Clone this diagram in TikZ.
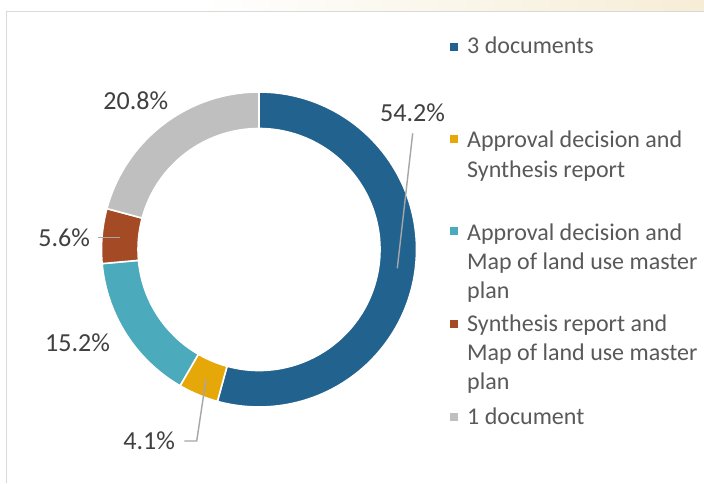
\documentclass[tikz,border=0pt]{standalone}
\usepackage{fontspec}
\setmainfont{Carlito}
\definecolor{cblue}{HTML}{22628F}
\definecolor{cyellow}{HTML}{E6A708}
\definecolor{cteal}{HTML}{4BAABB}
\definecolor{cbrown}{HTML}{A44A24}
\definecolor{cgray}{HTML}{BFBFBF}
\definecolor{labtxt}{HTML}{404040}
\definecolor{legtxt}{HTML}{595959}
\definecolor{leader}{HTML}{A6A6A6}
\definecolor{frame}{HTML}{D9D9D9}
\definecolor{cream}{HTML}{F6EDD6}
\newcommand{\ringslice}[3]{%
  \draw[white, line width=1.6pt, fill=#3]
    ([shift={(#1:157.5)}]ctr) arc[start angle=#1, end angle=#2, radius=157.5]
    -- ([shift={(#2:121)}]ctr) arc[start angle=#2, end angle=#1, radius=121] -- cycle;}
\begin{document}
\begin{tikzpicture}[x=1pt,y=1pt,
  lab/.style={font=\fontsize{26}{31}\selectfont, text=labtxt, inner sep=0pt, anchor=base},
  leg/.style={font=\fontsize{24}{29}\selectfont, text=legtxt, inner sep=0pt, anchor=base west, align=left},
  legsq/.style={minimum size=8pt, inner sep=0pt, draw=none},
  leaderline/.style={draw=leader, line width=1.4pt}]
\useasboundingbox (0,0) rectangle (704,483);
\fill[white] (0,0) rectangle (704,483);
\shade[left color=white, right color=cream] (200,471.5) rectangle (704,483);
\draw[frame, line width=1.2pt] (6.5,0) -- (6.5,471.5) -- (704,471.5);
\coordinate (ctr) at (259,233.5);
\ringslice{90}{-105.32}{cblue}
\ringslice{-105.32}{-120.09}{cyellow}
\ringslice{-120.09}{-174.86}{cteal}
\ringslice{-174.86}{-195.05}{cbrown}
\ringslice{-195.05}{-270}{cgray}
% labels
\node[lab] (p1) at (412.5,361.3) {54.2\%};
\node[lab] (p5) at (135.8,373.7) {20.8\%};
\node[lab] (p4) at (64.2,236.3) {5.6\%};
\node[lab] (p3) at (77.5,131.3) {15.2\%};
\node[lab] (p2) at (149.2,33.7) {4.1\%};
% leader lines
\coordinate (l1a) at (412.7,349.7);
\coordinate (l1b) at (397.3,214.7);
\coordinate (l2a) at (98.3,245.3);
\coordinate (l2b) at (120,245.3);
\coordinate (l3a) at (206,103.7);
\coordinate (l3b) at (196.7,42);
\coordinate (l3c) at (184.3,42);
\draw[leaderline] (l1a) -- (l1b);
\draw[leaderline] (l2a) -- (l2b);
\draw[leaderline] (l3a) -- (l3b) -- (l3c);
% legend
\node[legsq, fill=cblue] (s1) at (454,435.5) {};
\node[legsq, fill=cyellow] (s2) at (454,344) {};
\node[legsq, fill=cteal] (s3) at (454,252) {};
\node[legsq, fill=cbrown] (s4) at (454,159) {};
\node[legsq, fill=cgray] (s5) at (454,66) {};
\node[leg] (t1) at (467,429.5) {3 documents};
\node[leg] (t2) at (467,306) {Approval decision and\\Synthesis report};
\node[leg] (t3) at (467,185) {Approval decision and\\Map of land use master\\plan};
\node[leg] (t4) at (467,93.5) {Synthesis report and\\Map of land use master\\plan};
\node[leg] (t5) at (467,59) {1 document};
\end{tikzpicture}
\end{document}
